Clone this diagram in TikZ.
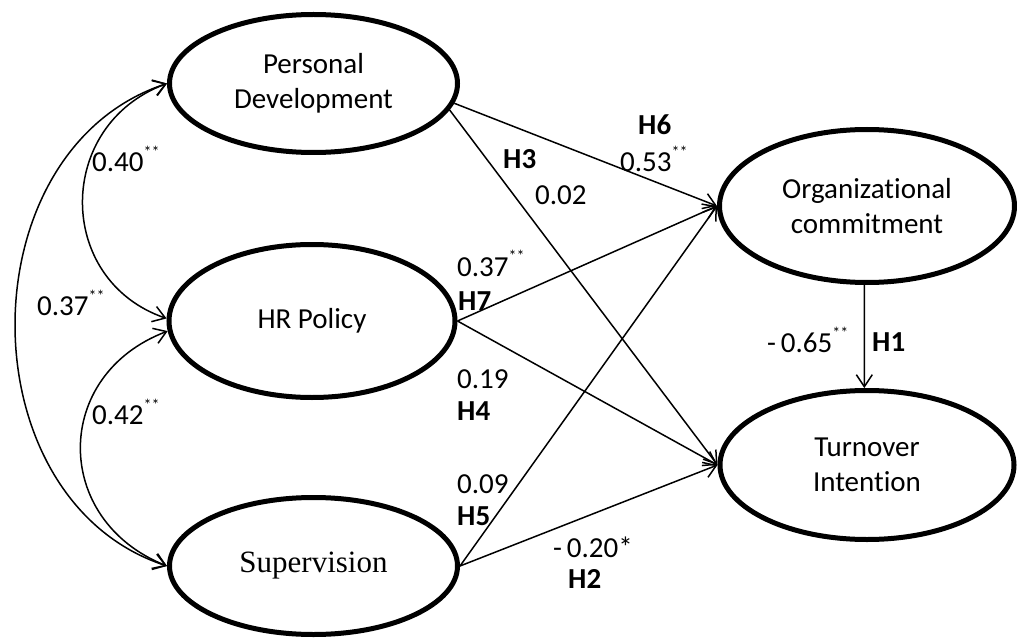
\documentclass[tikz,border=0pt]{standalone}
\usepackage{fontspec}
\setsansfont{Carlito}[Ligatures={NoCommon}]
\newfontfamily\supfont{Liberation Serif}
\usetikzlibrary{arrows.meta,shapes.geometric}
\newcommand{\sig}[1]{\raisebox{14pt}{\fontsize{16}{16}\selectfont #1}}
\begin{document}
\begin{tikzpicture}[x=1pt,y=-1pt,
  every node/.style={font=\sffamily\fontsize{29}{35}\selectfont},
  latent/.style={ellipse,draw,line width=5pt,inner sep=0pt,align=center},
  conn/.style={line width=1.5pt,-{Straight Barb[length=12pt,width=16pt,line width=1.5pt]}},
  corr/.style={line width=1.5pt,{Straight Barb[length=12pt,width=16pt,line width=1.5pt]}-{Straight Barb[length=12pt,width=16pt,line width=1.5pt]}},
  lbl/.style={anchor=base west,inner sep=0pt},
  hyp/.style={anchor=base west,inner sep=0pt,font=\sffamily\bfseries\fontsize{29}{35}\selectfont}]
\useasboundingbox (0,0) rectangle (1017,639);
\node[latent,minimum width=288pt,minimum height=138pt] (pd) at (313.5,83.5) {Personal\\Development};
\node[latent,minimum width=286pt,minimum height=153pt] (hr) at (312,321) {HR Policy};
\node[latent,minimum width=288pt,minimum height=137pt,font=\supfont\fontsize{31}{35}\selectfont] (sup) at (313.5,566) {Supervision};
\node[latent,minimum width=295pt,minimum height=153pt] (oc) at (867,206) {Organizational\\commitment};
\node[latent,minimum width=294pt,minimum height=149pt] (ti) at (867,465) {Turnover\\Intention};
% structural paths
\draw[conn] (pd.-8) -- (oc.west);
\draw[conn] (pd.-11) -- (ti.west);
\draw[conn] (hr.east) -- (oc.west);
\draw[conn] (hr.east) -- (ti.west);
\draw[conn] (sup.east) -- (oc.west);
\draw[conn] (sup.east) -- (ti.west);
\draw[conn] (oc.-92) -- (ti.92);
% correlations
\draw[corr] (pd.west) .. controls (55,125) and (55,280) .. (hr.179);
\draw[corr] (hr.184) .. controls (52,375) and (52,520) .. (sup.west);
\draw[corr] (pd.west) .. controls (-35,150) and (-35,500) .. (sup.west);
% labels
\node[lbl] (l1) at (92,172) {0.40\sig{**}};
\node[lbl] (l2) at (37,315) {0.37\sig{**}};
\node[lbl] (l3) at (92,424) {0.42\sig{**}};
\node[hyp] (h6) at (638,135) {H6};
\node[lbl] (l4) at (620,172) {0.53\sig{**}};
\node[hyp] (h3) at (503,169) {H3};
\node[lbl] (l5) at (535,205) {0.02};
\node[lbl] (l6) at (457,276) {0.37\sig{**}};
\node[hyp] (h7) at (458,310) {H7};
\node[lbl] (l7) at (457,388) {0.19};
\node[hyp] (h4) at (457,420) {H4};
\node[lbl] (l8) at (457,493) {0.09};
\node[hyp] (h5) at (457,525) {H5};
\node[lbl] (l9) at (553,557) {-\,0.20*};
\node[hyp] (h2) at (568,588) {H2};
\node[lbl] (l10) at (767,352) {-\,0.65\sig{**}};
\node[hyp] (h1) at (872,351) {H1};
\end{tikzpicture}
\end{document}
